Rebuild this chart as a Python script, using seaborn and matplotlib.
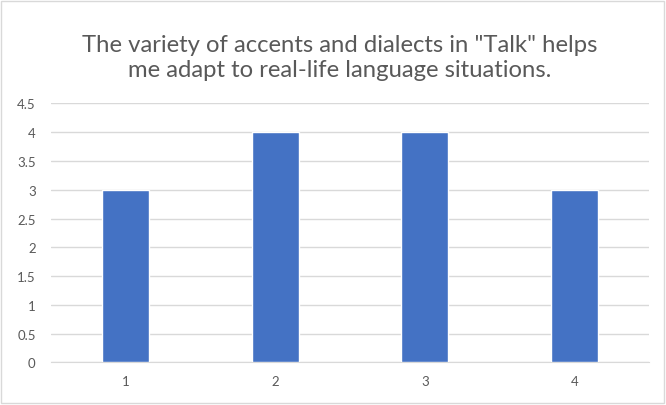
import matplotlib
matplotlib.use("Agg")
import pandas as pd
import seaborn as sns
import matplotlib.pyplot as plt
from matplotlib.patches import Rectangle

# Chart data
categories = ["1", "2", "3", "4"]
values = [3, 4, 4, 3]
y_ticks = [0, 0.5, 1, 1.5, 2, 2.5, 3, 3.5, 4, 4.5]
y_tick_labels = ["0", "0.5", "1", "1.5", "2", "2.5", "3", "3.5", "4", "4.5"]
title = 'The variety of accents and dialects in "Talk" helps\nme adapt to real-life language situations.'

df = pd.DataFrame({"Category": categories, "Value": values})

sns.set_style("white")
plt.rcParams["font.family"] = ["Lato", "DejaVu Sans"]

fig = plt.figure(figsize=(6.66, 4.06), dpi=100)
ax = fig.add_axes([0.0766, 0.1047, 0.898, 0.638])

sns.barplot(x="Category", y="Value", data=df, color="#4472c4", width=0.314,
            saturation=1, ax=ax, zorder=3)

ax.set_ylim(0, 4.5)
ax.set_yticks(y_ticks)
ax.set_yticklabels(y_tick_labels)
ax.yaxis.grid(True, color="#d9d9d9", linewidth=1, zorder=0)
ax.set_axisbelow(True)
for s in ["top", "right", "left"]:
    ax.spines[s].set_visible(False)
ax.spines["bottom"].set_color("#d9d9d9")
ax.tick_params(axis="y", length=0, colors="#595959", labelsize=9.5, pad=11)
ax.tick_params(axis="x", length=0, colors="#595959", labelsize=9.5, pad=9)
ax.set_xlabel("")
ax.set_ylabel("")

fig.text(0.51, 0.857, title, ha="center", va="center", fontsize=17.2,
         color="#595959", linespacing=1.25)

# Chart border
fig.patches.append(Rectangle((0.002, 0.004), 0.995, 0.992, transform=fig.transFigure,
                             fill=False, edgecolor="#d9d9d9", linewidth=1))

fig.savefig("out.png", dpi=100)
